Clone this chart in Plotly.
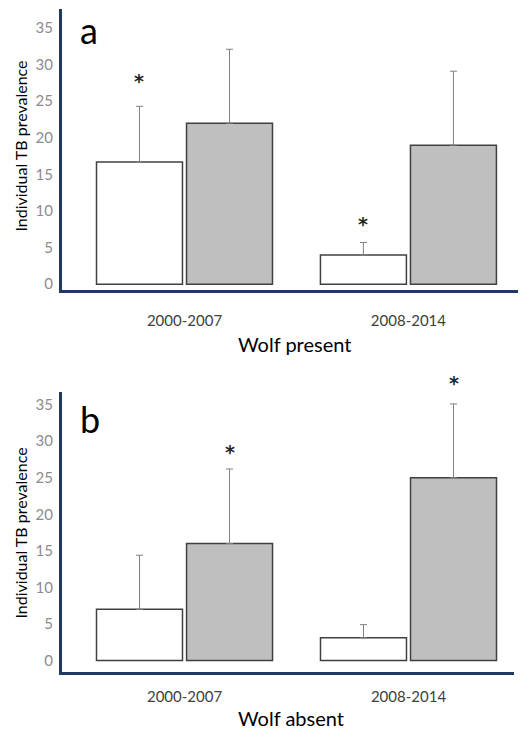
import plotly.graph_objects as go

W, H = 526, 736
OFF = 8  # page body margin
FW, FH = W - OFF, H - OFF

categories = ["2000-2007", "2008-2014"]

# Panel a: wolf present
a_white = [16.7, 4.0]
a_white_err = [7.6, 1.7]
a_gray = [22.0, 19.0]
a_gray_err = [10.1, 10.1]

# Panel b: wolf absent
b_white = [7.0, 3.1]
b_white_err = [7.4, 1.8]
b_gray = [16.0, 25.0]
b_gray_err = [10.2, 10.1]

# significance markers (category index, bar side, y value)
a_stars = [(0, "white", 27.7), (1, "white", 8.2)]
b_stars = [(0, "gray", 28.5), (1, "gray", 37.9)]

y_ticks = [0, 5, 10, 15, 20, 25, 30, 35]

NAVY = "#1F3864"
FONT = "Lato"


def px(x):
    return (x - OFF) / FW


def py(y):
    return 1 - (y - OFF) / FH


fig = go.Figure()


def add_bars(xa, ya, white, white_err, gray, gray_err):
    fig.add_trace(go.Bar(
        x=categories, y=white, xaxis=xa, yaxis=ya,
        marker=dict(color="white", line=dict(color="#404040", width=1.5)),
        error_y=dict(type="data", symmetric=False, array=white_err,
                     arrayminus=[0] * len(white_err),
                     color="#808080", thickness=1, width=3.5),
        offsetgroup="w", showlegend=False,
    ))
    fig.add_trace(go.Bar(
        x=categories, y=gray, xaxis=xa, yaxis=ya,
        marker=dict(color="#BFBFBF", line=dict(color="#404040", width=1.5)),
        error_y=dict(type="data", symmetric=False, array=gray_err,
                     arrayminus=[0] * len(gray_err),
                     color="#808080", thickness=1, width=3.5),
        offsetgroup="g", showlegend=False,
    ))


add_bars("x", "y", a_white, a_white_err, a_gray, a_gray_err)
add_bars("x2", "y2", b_white, b_white_err, b_gray, b_gray_err)

common_x = dict(type="category", showline=True, linecolor=NAVY, linewidth=3,
                showgrid=False, zeroline=False, ticks="",
                tickfont=dict(family=FONT, size=15, color="#404040"))
common_y = dict(showline=True, linecolor=NAVY, linewidth=3, showgrid=False,
                zeroline=False, ticks="", tickvals=y_ticks,
                tickfont=dict(family=FONT, size=15, color="#8C8C8C"),
                ticklabelstandoff=3)

ya_range = [-0.82, 37.6]
yb_range = [-1.6, 36.74]

fig.update_layout(
    width=FW, height=FH,
    margin=dict(l=0, r=0, t=0, b=0),
    paper_bgcolor="white", plot_bgcolor="white",
    barmode="group", bargap=0.196, bargroupgap=0.045,
    xaxis=dict(domain=[px(62), 1.0], anchor="y", range=[-0.547, 1.525],
               ticklabelstandoff=15, **common_x),
    yaxis=dict(domain=[py(291), py(9)], anchor="x", range=ya_range, **common_y),
    xaxis2=dict(domain=[px(62), px(514)], anchor="y2", range=[-0.547, 1.471],
                ticklabelstandoff=9, **common_x),
    yaxis2=dict(domain=[py(674), py(393)], anchor="x2", range=yb_range, **common_y),
)

annotations = []
off = 0.201
for stars, xr, yr, rng in [(a_stars, "x", "y domain", ya_range),
                           (b_stars, "x2", "y2 domain", yb_range)]:
    for idx, side, val in stars:
        xpos = idx - off if side == "white" else idx + off
        yfrac = (val - rng[0]) / (rng[1] - rng[0])
        annotations.append(dict(x=xpos, y=yfrac, xref=xr, yref=yr, text="<b>*</b>",
                                showarrow=False, yanchor="middle",
                                font=dict(family="DejaVu Sans", size=19, color="#262626")))

# panel letters
annotations.append(dict(x=px(78), y=py(30), xref="paper", yref="paper", text="a",
                        showarrow=False, xanchor="left", yanchor="middle",
                        font=dict(family=FONT, size=36, color="black")))
annotations.append(dict(x=px(78), y=py(420), xref="paper", yref="paper", text="b",
                        showarrow=False, xanchor="left", yanchor="middle",
                        font=dict(family=FONT, size=36, color="black")))
# x titles
annotations.append(dict(x=px(294), y=py(345), xref="paper", yref="paper", text="Wolf present",
                        showarrow=False, xanchor="center", yanchor="middle",
                        font=dict(family=FONT, size=20, color="black")))
annotations.append(dict(x=px(291), y=py(720), xref="paper", yref="paper", text="Wolf absent",
                        showarrow=False, xanchor="center", yanchor="middle",
                        font=dict(family=FONT, size=20, color="black")))
# y titles
annotations.append(dict(x=px(21), y=py(147), xref="paper", yref="paper",
                        text="Individual TB prevalence", textangle=-90,
                        showarrow=False, xanchor="center", yanchor="middle",
                        font=dict(family=FONT, size=16, color="black")))
annotations.append(dict(x=px(21), y=py(535), xref="paper", yref="paper",
                        text="Individual TB prevalence", textangle=-90,
                        showarrow=False, xanchor="center", yanchor="middle",
                        font=dict(family=FONT, size=16, color="black")))

fig.update_layout(annotations=annotations)

fig.write_html("out.html")
